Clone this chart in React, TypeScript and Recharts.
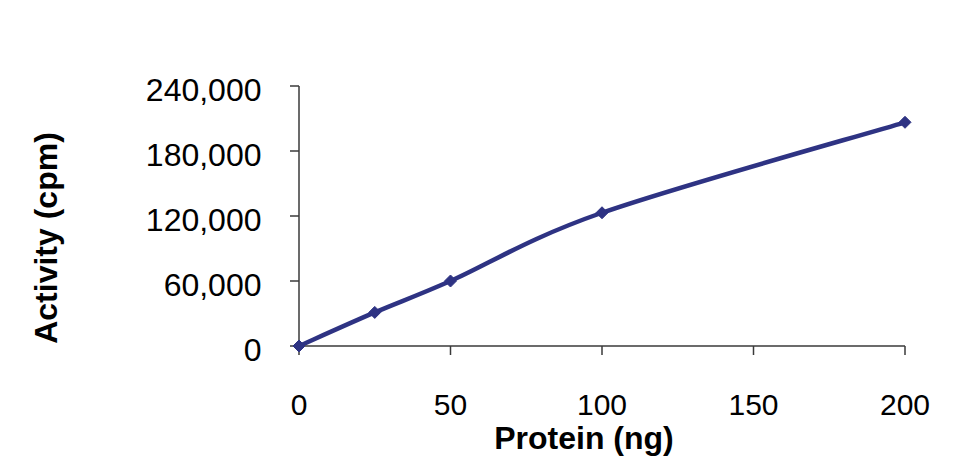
import React from "react";
import { LineChart, Line, XAxis, YAxis } from "recharts";

const proteinNg = [0, 25, 50, 100, 200];
const activityCpm = [0, 31000, 60000, 123000, 206500];
const xTicks = [0, 50, 100, 150, 200];
const yTicks = [0, 60000, 120000, 180000, 240000];

const data = proteinNg.map((p, i) => ({ protein: p, activity: activityCpm[i] }));

const LINE = "#2E3383";
const AXIS = "#3a3a3a";
const FONT = "'Liberation Sans', Arial, sans-serif";

const fmt = (v: number) => v.toLocaleString("en-US");

// Excel-style smoothed line (Catmull-Rom Bezier segments)
const excelSmooth = (context: any) => {
  let pts: [number, number][] = [];
  return {
    areaStart() {},
    areaEnd() {},
    lineStart() {
      pts = [];
    },
    point(x: number, y: number) {
      pts.push([+x, +y]);
    },
    lineEnd() {
      const n = pts.length;
      if (!n) return;
      context.moveTo(pts[0][0], pts[0][1]);
      for (let i = 0; i < n - 1; i++) {
        const p0 = pts[i - 1] || pts[i];
        const p1 = pts[i];
        const p2 = pts[i + 1];
        const p3 = pts[i + 2] || pts[i + 1];
        const c1x = p1[0] + (p2[0] - p0[0]) / 6;
        const c1y = p1[1] + (p2[1] - p0[1]) / 6;
        const c2x = p2[0] - (p3[0] - p1[0]) / 6;
        const c2y = p2[1] - (p3[1] - p1[1]) / 6;
        context.bezierCurveTo(c1x, c1y, c2x, c2y, p2[0], p2[1]);
      }
    },
  };
};

const XTick = (props: any) => {
  const { x, y, payload } = props;
  return (
    <text x={x} y={y + 60} textAnchor="middle" fontFamily={FONT} fontSize={30} fill="#000">
      {payload.value}
    </text>
  );
};

const YTick = (props: any) => {
  const { x, y, payload } = props;
  return (
    <text x={x - 28.5} y={y + 14.5} textAnchor="end" fontFamily={FONT} fontSize={32} fill="#000">
      {fmt(payload.value)}
    </text>
  );
};

const Diamond = (props: any) => {
  const { cx, cy } = props;
  if (cx == null || cy == null) return null;
  const r = 6;
  return (
    <path
      d={`M${cx},${cy - r} L${cx + r},${cy} L${cx},${cy + r} L${cx - r},${cy} Z`}
      fill={LINE}
      stroke={LINE}
      strokeWidth={1}
    />
  );
};

const XLabel = (props: any) => {
  const vb = props.viewBox || {};
  const cx = vb.x + vb.width / 2 - 18;
  return (
    <text x={cx} y={449} textAnchor="middle" fontFamily={FONT} fontSize={32} fontWeight="bold" fill="#000">
      Protein (ng)
    </text>
  );
};

const YLabel = (props: any) => {
  const vb = props.viewBox || {};
  const cy = vb.y + vb.height / 2 + 22;
  return (
    <text
      x={57}
      y={cy}
      transform={`rotate(-90 57 ${cy})`}
      textAnchor="middle"
      fontFamily={FONT}
      fontSize={32}
      fontWeight="bold"
      fill="#000"
    >
      Activity (cpm)
    </text>
  );
};

export default function App() {
  return (
    <div style={{ position: "absolute", left: 0, top: 0, width: 966, height: 472, background: "#fff" }}>
      <LineChart
        width={966}
        height={472}
        data={data}
        margin={{ top: 86, right: 61, bottom: 0, left: 0 }}
      >
        <XAxis
          dataKey="protein"
          type="number"
          domain={[0, 200]}
          ticks={xTicks}
          tickSize={9}
          tickMargin={0}
          tick={<XTick />}
          axisLine={{ stroke: AXIS, strokeWidth: 1.5 }}
          tickLine={{ stroke: AXIS, strokeWidth: 1.5 }}
          height={126}
          label={<XLabel />}
          interval={0}
        />
        <YAxis
          dataKey="activity"
          type="number"
          domain={[0, 240000]}
          ticks={yTicks}
          tickSize={9}
          tickMargin={0}
          tick={<YTick />}
          axisLine={{ stroke: AXIS, strokeWidth: 1.5 }}
          tickLine={{ stroke: AXIS, strokeWidth: 1.5 }}
          width={299}
          label={<YLabel />}
          interval={0}
        />
        <Line
          type={excelSmooth as any}
          dataKey="activity"
          stroke={LINE}
          strokeWidth={4.5}
          dot={<Diamond />}
          activeDot={false}
          isAnimationActive={false}
        />
      </LineChart>
    </div>
  );
}
